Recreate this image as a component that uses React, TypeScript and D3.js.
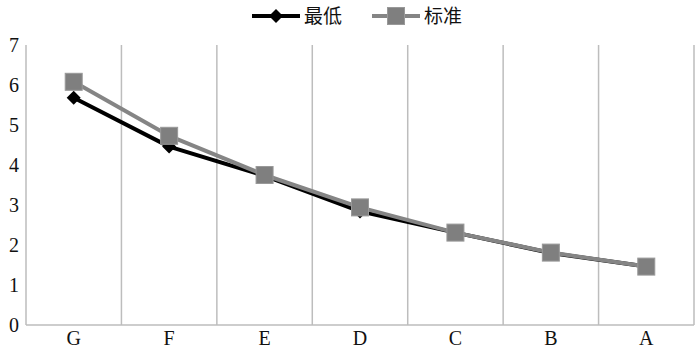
import React from "react";
import * as d3 from "d3";

const categories = ["G", "F", "E", "D", "C", "B", "A"];
const seriesNames = ["最低", "标准"];
const minValues = [5.68, 4.46, 3.73, 2.84, 2.31, 1.8, 1.46];
const stdValues = [6.08, 4.73, 3.75, 2.94, 2.31, 1.81, 1.46];
const yTicks = [0, 1, 2, 3, 4, 5, 6, 7];

export default function App() {
  const W = 700, H = 353;
  const left = 26, right = 694, top = 45, bottom = 325;
  const x = d3.scaleBand<string>().domain(categories).range([left, right]);
  const y = d3.scaleLinear().domain([0, 7]).range([bottom, top]);
  const cx = (c: string) => (x(c) as number) + x.bandwidth() / 2;
  const line = d3.line<number>().x((_, i) => cx(categories[i])).y((v) => y(v));
  const grid = "#bdbdbd";
  const black = "#000";
  const gray = "#858585";
  const serif = "'Liberation Serif', 'Times New Roman', serif";
  const cjk = "'Noto Sans CJK SC', sans-serif";
  const diamond = (px: number, py: number, r: number) =>
    `M${px},${py - r}L${px + r},${py}L${px},${py + r}L${px - r},${py}Z`;
  return (
    <svg width={W} height={H} style={{ position: "absolute", left: 0, top: 0, background: "#fff" }}>
      <rect x={0} y={0} width={W} height={H} fill="#fff" />
      {categories.map((c) => (
        <line key={c} x1={(x(c) as number) + x.bandwidth()} x2={(x(c) as number) + x.bandwidth()} y1={top} y2={bottom} stroke={grid} strokeWidth={1.5} />
      ))}
      <line x1={left} x2={left} y1={top} y2={bottom} stroke={grid} strokeWidth={1.5} />
      <line x1={left} x2={right} y1={bottom} y2={bottom} stroke={grid} strokeWidth={1.5} />
      {yTicks.map((t) => (
        <text key={t} x={14} y={y(t)} dy="0.35em" textAnchor="middle" fontFamily={serif} fontSize={20} fill="#111">{t}</text>
      ))}
      {categories.map((c) => (
        <text key={c} x={cx(c)} y={338} dy="0.35em" textAnchor="middle" fontFamily={serif} fontSize={20} fill="#111">{c}</text>
      ))}
      <path d={line(minValues) || ""} fill="none" stroke={black} strokeWidth={4} strokeLinejoin="round" />
      {minValues.map((v, i) => (
        <path key={i} d={diamond(cx(categories[i]), y(v), 7)} fill={black} />
      ))}
      <path d={line(stdValues) || ""} fill="none" stroke={gray} strokeWidth={4} strokeLinejoin="round" />
      {stdValues.map((v, i) => (
        <rect key={i} x={cx(categories[i]) - 8.5} y={y(v) - 8.5} width={17} height={17} fill="#7f7f7f" stroke="#999" strokeWidth={1} />
      ))}
      <g>
        <line x1={252} x2={300} y1={16} y2={16} stroke={black} strokeWidth={4} />
        <path d={diamond(276, 16, 7)} fill={black} />
        <text x={304} y={16} dy="0.35em" fontFamily={cjk} fontSize={19} fill="#111">{seriesNames[0]}</text>
        <line x1={372} x2={420} y1={16} y2={16} stroke={gray} strokeWidth={4} />
        <rect x={387.5} y={7.5} width={17} height={17} fill="#7f7f7f" stroke="#999" strokeWidth={1} />
        <text x={424} y={16} dy="0.35em" fontFamily={cjk} fontSize={19} fill="#111">{seriesNames[1]}</text>
      </g>
    </svg>
  );
}
